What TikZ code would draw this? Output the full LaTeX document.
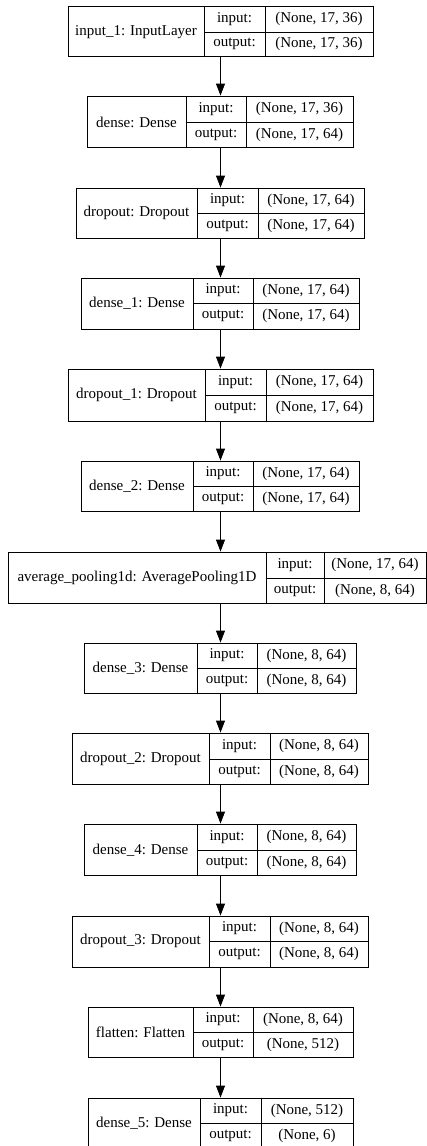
\documentclass[tikz,border=0pt]{standalone}
\usepackage{fontspec}
\setmainfont{Liberation Serif}
\usetikzlibrary{arrows.meta,fit}
\begin{document}
\begin{tikzpicture}[x=1pt,y=-1pt,line width=0.9pt,
  lbl/.style={font=\fontsize{15}{18}\selectfont,inner sep=0pt,anchor=center},
  layerbox/.style={draw,inner sep=0pt},
  flow/.style={-{Triangle[length=12pt,width=9pt]}}]
\useasboundingbox[fill=white] (0,0) rectangle (427,1146);
\coordinate (axis) at (220.5,0);
% id / left / divider 1 / divider 2 / right / top / middle / bottom / name / input / output
\foreach \id/\a/\b/\c/\d/\t/\m/\u/\name/\inp/\outp in {
  1/68/204/265/373/6/32/56/{input\_1: InputLayer}/{(None, 17, 36)}/{(None, 17, 36)},
  2/87/186/246/353/96/122/147/{dense: Dense}/{(None, 17, 36)}/{(None, 17, 64)},
  3/76/197/258/364/188/213/238/{dropout: Dropout}/{(None, 17, 64)}/{(None, 17, 64)},
  4/81/193/253/359/278/303/329/{dense\_1: Dense}/{(None, 17, 64)}/{(None, 17, 64)},
  5/68/205/266/373/369/395/421/{dropout\_1: Dropout}/{(None, 17, 64)}/{(None, 17, 64)},
  6/81/193/253/359/461/486/511/{dense\_2: Dense}/{(None, 17, 64)}/{(None, 17, 64)},
  7/8/266/324/426/552/578/603/{average\_pooling1d: AveragePooling1D}/{(None, 17, 64)}/{(None, 8, 64)},
  8/84/197/257/356/643/668/693/{dense\_3: Dense}/{(None, 8, 64)}/{(None, 8, 64)},
  9/72/209/270/368/733/759/784/{dropout\_2: Dropout}/{(None, 8, 64)}/{(None, 8, 64)},
  10/84/197/257/356/824/850/875/{dense\_4: Dense}/{(None, 8, 64)}/{(None, 8, 64)},
  11/72/209/270/368/916/941/967/{dropout\_3: Dropout}/{(None, 8, 64)}/{(None, 8, 64)},
  12/88/193/253/353/1007/1032/1057/{flatten: Flatten}/{(None, 8, 64)}/{(None, 512)},
  13/88/200/261/353/1098/1123/1148/{dense\_5: Dense}/{(None, 512)}/{(None, 6)}}
{
  \node[layerbox,fit={(\a,\t) (\d,\u)}] (b\id) {};
  \draw (\b,\t) -- (\b,\u);
  \draw (\c,\t) -- (\c,\u);
  \draw (\b,\m) -- (\d,\m);
  \node[lbl] (n\id) at ({(\a+\b)/2},\m) {\name};
  \node[lbl] (ik\id) at ({(\b+\c)/2},{(\t+\m)/2}) {input:};
  \node[lbl] (ok\id) at ({(\b+\c)/2},{(\m+\u)/2}) {output:};
  \node[lbl] (iv\id) at ({(\c+\d)/2},{(\t+\m)/2}) {\inp};
  \node[lbl] (ov\id) at ({(\c+\d)/2},{(\m+\u)/2}) {\outp};
}
\foreach \i [evaluate=\i as \j using int(\i+1)] in {1,...,12}
  \draw[flow] (axis |- b\i.south) -- (axis |- b\j.north);
\end{tikzpicture}
\end{document}
